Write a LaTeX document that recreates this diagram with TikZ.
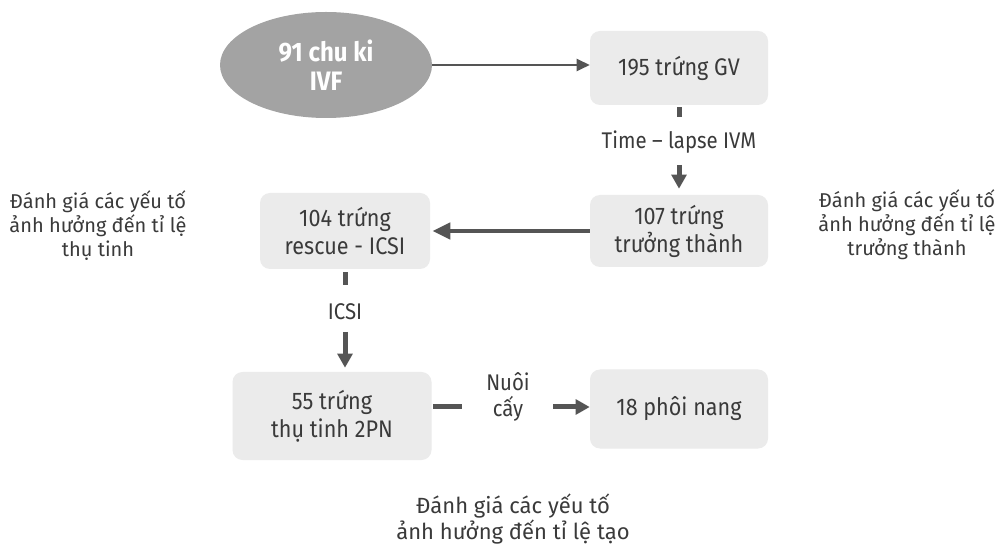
\documentclass[tikz,border=0pt]{standalone}
\usepackage{fontspec}
\setmainfont{Fira Sans}[FakeStretch=0.9]
\newfontfamily\sidefont{Fira Sans}
\usetikzlibrary{arrows.meta,shapes.geometric}
\definecolor{txt}{HTML}{3A3A3A}
\definecolor{arr}{HTML}{555555}
\definecolor{boxfill}{HTML}{EBEBEB}
\definecolor{ellfill}{HTML}{A3A3A3}
\begin{document}
\begin{tikzpicture}[x=0.75pt,y=-0.75pt,
 box/.style={rectangle, rounded corners=7.5pt, fill=boxfill, text=txt, align=center, font=\fontsize{18}{21}\selectfont, inner sep=0pt},
 lbl/.style={text=txt, align=center, font=\fontsize{17}{20}\selectfont, inner sep=0pt},
 side/.style={text=txt, align=center, font=\sidefont\fontsize{15}{18}\selectfont, inner sep=0pt},
 stub/.style={draw=arr, line width=3.75pt},
 varrow/.style={draw=arr, line width=3.75pt, -{Triangle[length=10.5pt,width=11pt]}},
 harrow/.style={draw=arr, line width=3.5pt, -{Triangle[length=13.5pt,width=12pt]}},
 thinarrow/.style={draw=arr, line width=1.5pt, -{Triangle[length=9.75pt,width=9pt]}}]
\useasboundingbox (0,0) rectangle (1002,548);
\fill[white] (0,0) rectangle (1002,548);
% nodes
\node[ellipse, fill=ellfill, minimum width=159pt, minimum height=79.5pt, text=white,
      font=\bfseries\fontsize{20}{22}\selectfont, align=center, inner sep=0pt] (ell) at (326,65) {91 chu ki\\IVF};
\node[box, minimum width=133.5pt, minimum height=55.5pt] (b195) at (679,68) {195 trứng GV};
\node[lbl] (tl) at (679,142) {Time -- lapse IVM};
\node[box, minimum width=133.5pt, minimum height=54pt] (b107) at (679,231) {107 trứng\\trưởng thành};
\node[box, minimum width=127.5pt, minimum height=57pt] (b104) at (345,231) {104 trứng\\rescue - ICSI};
\node[lbl] (icsi) at (345,312) {ICSI};
\node[box, minimum width=149.25pt, minimum height=66pt] (b55) at (332,416) {55 trứng\\thụ tinh 2PN};
\node[lbl] (nuoi) at (508,397) {Nuôi\\cấy};
\coordinate (cy) at (508,407);
\node[box, minimum width=133.5pt, minimum height=59.25pt] (b18) at (679,409) {18 phôi nang};
\node[side] (lt) at (98,226) {Đánh giá các yếu tố\\ảnh hưởng đến tỉ lệ\\thụ tinh};
\node[side] (rt) at (907,225) {Đánh giá các yếu tố\\ảnh hưởng đến tỉ lệ\\trưởng thành};
\node[side, anchor=north, font=\sidefont\fontsize{16.5}{19}\selectfont] (bt) at (513,494) {Đánh giá các yếu tố\\ảnh hưởng đến tỉ lệ tạo};
% connectors
\draw[thinarrow] (ell.east) -- (ell.east -| b195.west);
\draw[stub, shorten <=1.5pt, shorten >=18.75pt] (b195.south) -- (tl.center);
\draw[varrow, shorten <=17.25pt, shorten >=4.5pt] (tl.center) -- (tl.center |- b107.north);
\draw[harrow, shorten >=1.5pt] (b107.west) -- (b107.west -| b104.east);
\draw[stub, shorten <=2.25pt, shorten >=20.25pt] (b104.south) -- (icsi.center);
\draw[varrow, shorten <=15pt, shorten >=3pt] (icsi.center) -- (icsi.center |- b55.north);
\draw[stub, shorten <=0.75pt, shorten >=34.5pt] (cy -| b55.east) -- (cy);
\draw[varrow, shorten <=33.75pt] (cy) -- (cy -| b18.west);
\end{tikzpicture}
\end{document}
